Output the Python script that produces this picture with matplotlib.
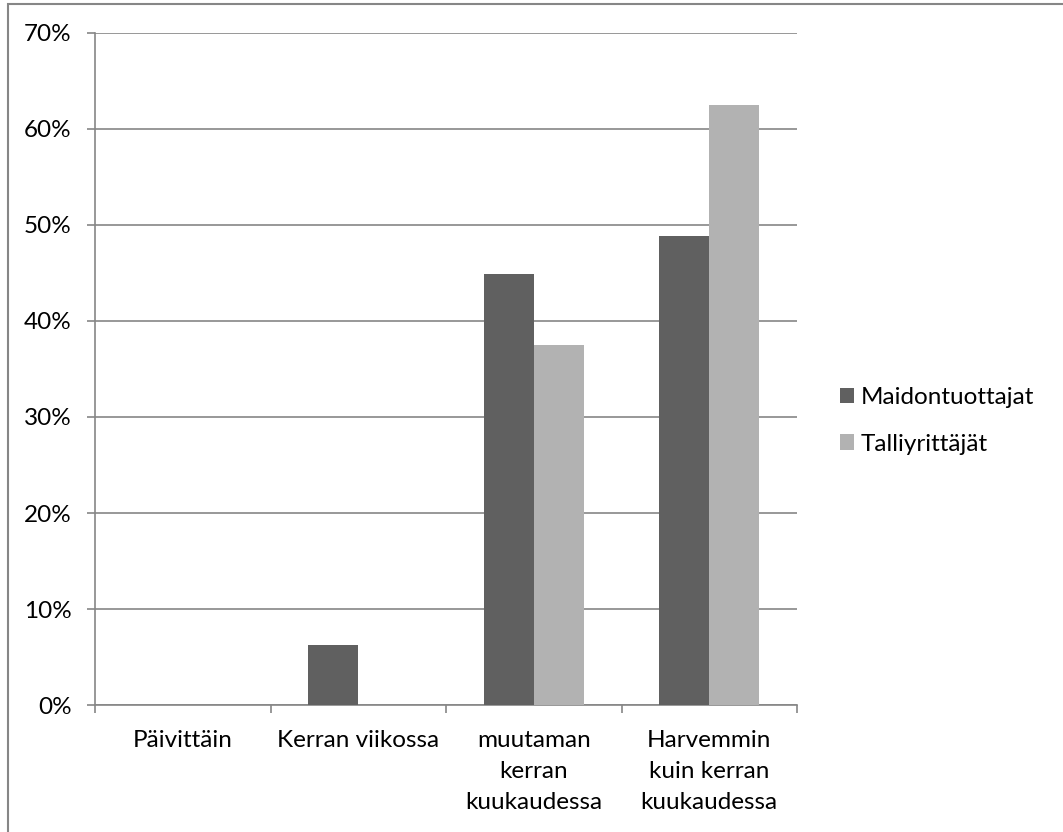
import numpy as np
import matplotlib
matplotlib.use('Agg')
import matplotlib.pyplot as plt
from matplotlib.patches import Rectangle
from matplotlib.ticker import FixedLocator, PercentFormatter

categories = ['Päivittäin', 'Kerran viikossa', 'muutaman\nkerran\nkuukaudessa',
              'Harvemmin\nkuin kerran\nkuukaudessa']
maidontuottajat = [0.0, 6.2, 44.9, 48.9]
talliyrittajat = [0.0, 0.0, 37.5, 62.5]
series_names = ['Maidontuottajat', 'Talliyrittäjät']

plt.rcParams['font.family'] = ['Lato', 'DejaVu Sans']
fs = 17.5

W, H = 1063, 832
fig = plt.figure(figsize=(W/100, H/100), dpi=100)
ax = fig.add_axes([95/W, 127/H, (797-95)/W, (705-33)/H])

x = np.arange(len(categories))
bw = 0.285
b1 = ax.bar(x, maidontuottajat, width=-bw, align='edge', color='#606060', zorder=3)
b2 = ax.bar(x, talliyrittajat, width=bw, align='edge', color='#b2b2b2', zorder=3)

ax.set_xlim(-0.5, len(categories)-0.5)
ax.set_ylim(0, 70)
ax.set_yticks(np.arange(0, 71, 10))
ax.yaxis.set_major_formatter(PercentFormatter(decimals=0))
ax.yaxis.grid(True, color='#868686', linewidth=1.2, zorder=0)

ax.set_xticks(x)
ax.set_xticklabels(categories, fontsize=fs, linespacing=1.6)
ax.xaxis.set_minor_locator(FixedLocator(np.arange(len(categories)+1) - 0.5))
ax.tick_params(axis='x', which='major', length=0, pad=18)
ax.tick_params(axis='x', which='minor', length=6, width=1.2, color='#868686')
ax.tick_params(axis='y', length=6, width=1.2, color='#868686', labelsize=fs, pad=11)

for s in ['top', 'right']:
    ax.spines[s].set_visible(False)
for s in ['left', 'bottom']:
    ax.spines[s].set_color('#868686')
    ax.spines[s].set_linewidth(1.2)

fig.legend([b1, b2], series_names, loc='center left',
           bbox_to_anchor=(818/W, (832-421)/H), frameon=False, fontsize=fs,
           handlelength=0.6, handleheight=0.6, handletextpad=0.25, labelspacing=1.05)

# outer chart frame
fig.patches.append(Rectangle((8/W, -0.1), 1.2, (832-4)/H + 0.1,
                             transform=fig.transFigure, fill=False,
                             edgecolor='#868686', linewidth=1.5))

fig.savefig('out.png', dpi=100)
